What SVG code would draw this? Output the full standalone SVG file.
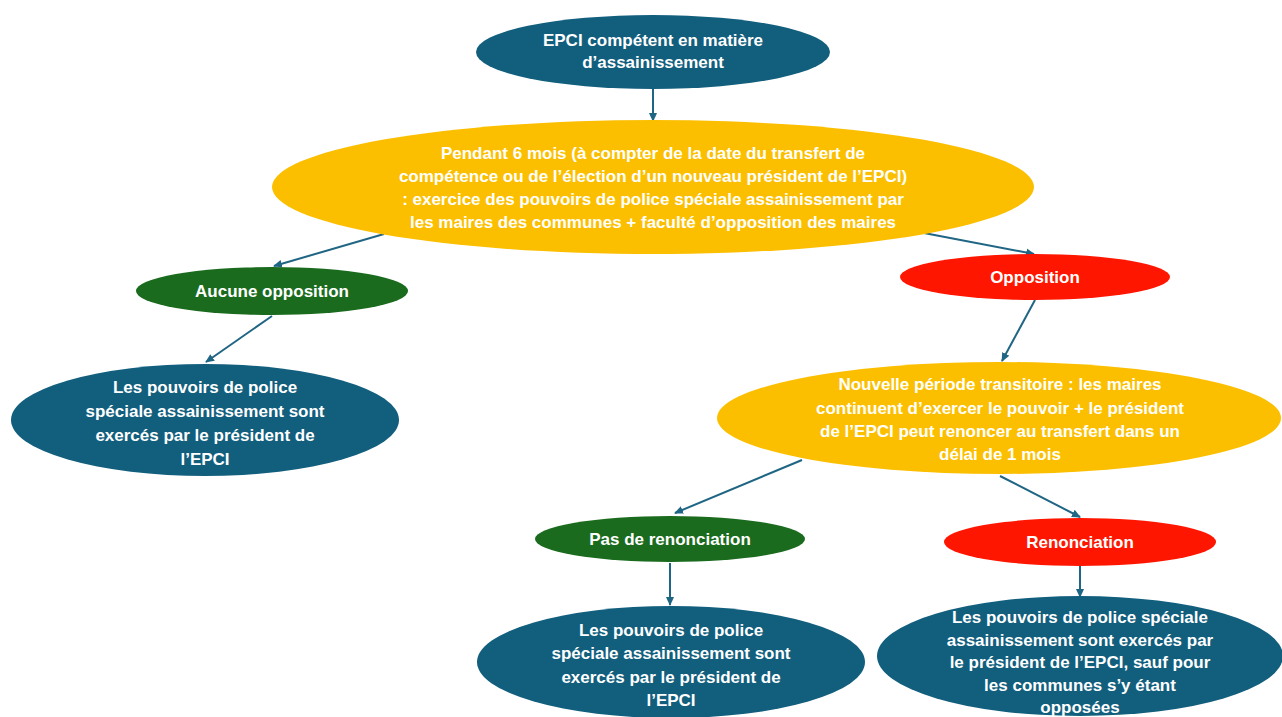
<svg xmlns="http://www.w3.org/2000/svg" width="1282" height="717" viewBox="0 0 1282 717">
<style>
.blue{fill:#115e7d}
.yel{fill:#fcbf00}
.grn{fill:#1a6b1e}
.red{fill:#fe1600}
text{font-family:"Liberation Sans",Arial,sans-serif;font-weight:bold;fill:#ffffff;text-anchor:middle;font-size:17px}
.c{stroke:#1f6584;stroke-width:2;fill:none;marker-end:url(#ah)}
</style>
<defs>
<marker id="ah" markerWidth="10" markerHeight="10" refX="8" refY="5" orient="auto" markerUnits="userSpaceOnUse">
<path d="M0,1 L9,5 L0,9 z" fill="#1f6584"/>
</marker>
</defs>
<rect width="1282" height="717" fill="#ffffff"/>
<g id="connectors">
<line class="c" x1="653" y1="88" x2="653" y2="121"/>
<line class="c" x1="384" y1="234" x2="274" y2="266"/>
<line class="c" x1="924" y1="233" x2="1034" y2="254"/>
<line class="c" x1="272" y1="316" x2="206" y2="362"/>
<line class="c" x1="1035" y1="300" x2="1002" y2="361"/>
<line class="c" x1="802" y1="460" x2="675" y2="513"/>
<line class="c" x1="1000" y1="476" x2="1080" y2="517"/>
<line class="c" x1="670" y1="563" x2="670" y2="605"/>
<line class="c" x1="1080" y1="566" x2="1080" y2="597"/>
</g>
<g id="n1">
<ellipse class="blue" cx="653" cy="52" rx="177" ry="37"/>
<text x="653" y="46">EPCI compétent en matière</text>
<text x="653" y="68">d’assainissement</text>
</g>
<g id="n2">
<ellipse class="yel" cx="653" cy="187" rx="381" ry="67"/>
<text x="653" y="159">Pendant 6 mois (à compter de la date du transfert de</text>
<text x="653" y="182">compétence ou de l’élection d’un nouveau président de l’EPCI)</text>
<text x="653" y="205">: exercice des pouvoirs de police spéciale assainissement par</text>
<text x="653" y="228">les maires des communes + faculté d’opposition des maires</text>
</g>
<g id="n3">
<ellipse class="grn" cx="272" cy="291" rx="136" ry="24"/>
<text x="272" y="297">Aucune opposition</text>
</g>
<g id="n4">
<ellipse class="red" cx="1035" cy="277" rx="135" ry="23"/>
<text x="1035" y="283">Opposition</text>
</g>
<g id="n5">
<ellipse class="blue" cx="205" cy="420" rx="194" ry="56"/>
<text x="205" y="393">Les pouvoirs de police</text>
<text x="205" y="417">spéciale assainissement sont</text>
<text x="205" y="441">exercés par le président de</text>
<text x="205" y="465">l’EPCI</text>
</g>
<g id="n6">
<ellipse class="yel" cx="999" cy="418" rx="282" ry="56"/>
<text x="1000" y="390">Nouvelle période transitoire : les maires</text>
<text x="1000" y="414">continuent d’exercer le pouvoir + le président</text>
<text x="1000" y="437">de l’EPCI peut renoncer au transfert dans un</text>
<text x="1000" y="460">délai de 1 mois</text>
</g>
<g id="n7">
<ellipse class="grn" cx="670" cy="539" rx="135" ry="23"/>
<text x="670" y="545">Pas de renonciation</text>
</g>
<g id="n8">
<ellipse class="red" cx="1080" cy="542" rx="136" ry="24"/>
<text x="1080" y="548">Renonciation</text>
</g>
<g id="n9">
<ellipse class="blue" cx="671" cy="662" rx="194" ry="56"/>
<text x="671" y="636">Les pouvoirs de police</text>
<text x="671" y="659">spéciale assainissement sont</text>
<text x="671" y="683">exercés par le président de</text>
<text x="671" y="706">l’EPCI</text>
</g>
<g id="n10">
<ellipse class="blue" cx="1080" cy="656" rx="203" ry="60"/>
<text x="1080" y="623">Les pouvoirs de police spéciale</text>
<text x="1080" y="646">assainissement sont exercés par</text>
<text x="1080" y="668">le président de l’EPCI, sauf pour</text>
<text x="1080" y="691">les communes s’y étant</text>
<text x="1080" y="713">opposées</text>
</g>
</svg>
